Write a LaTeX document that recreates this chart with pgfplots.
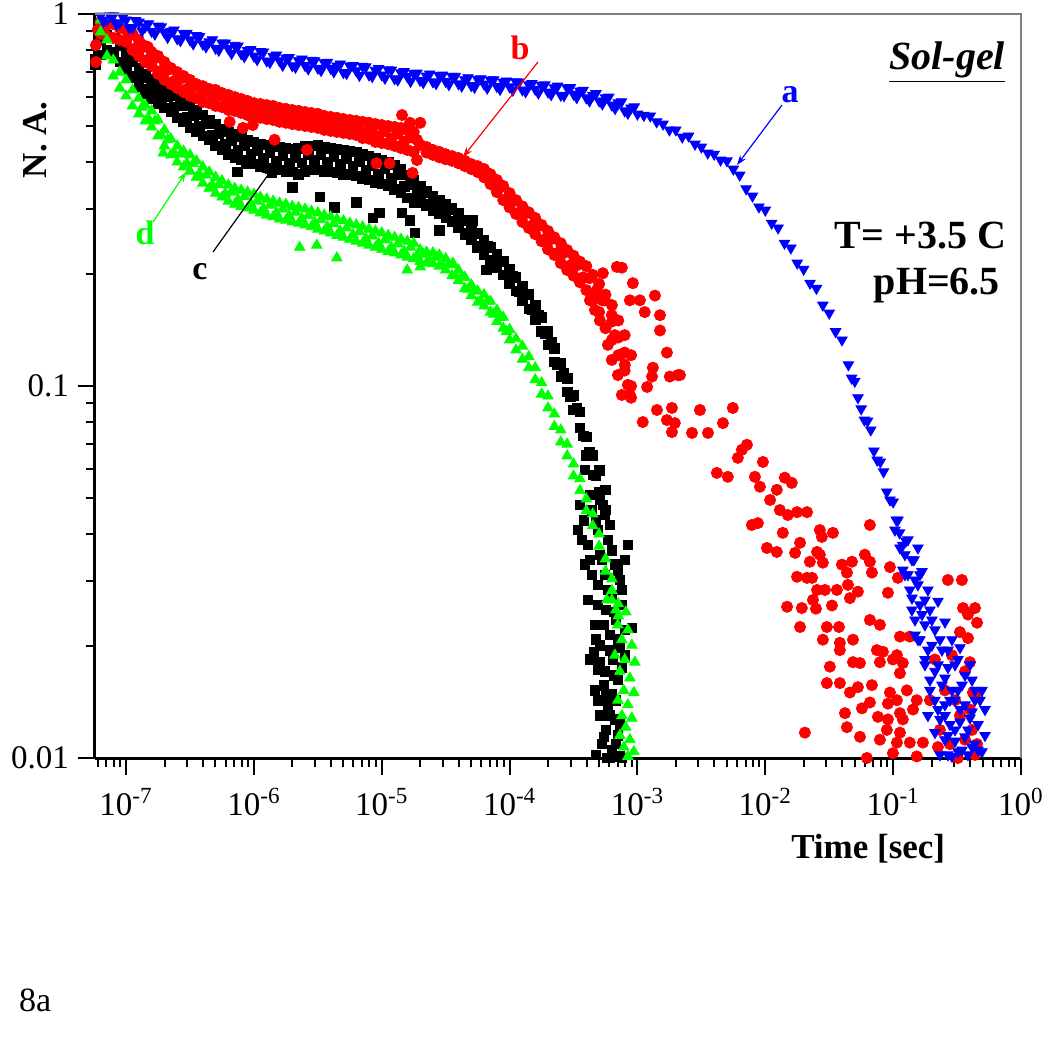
\documentclass[border=0pt]{standalone}
\usepackage{fontspec}
\setmainfont{Liberation Serif}
\usepackage{pgfplots}
\pgfplotsset{compat=1.18}
\usetikzlibrary{arrows.meta}
\definecolor{cblue}{RGB}{0,0,255}
\definecolor{cred}{RGB}{255,0,0}
\definecolor{cgreen}{RGB}{0,255,0}
\begin{document}
\begin{tikzpicture}
\useasboundingbox (0,0) rectangle (521.5pt,525pt);
\begin{axis}[
 at={(47.5pt,146pt)}, anchor=south west,
 width=463pt, height=372pt, scale only axis,
 xmode=log, ymode=log,
 xmin=5.71e-8, xmax=1, ymin=0.01, ymax=1,
 axis x line*=bottom, axis y line*=left,
 axis line style={-, line width=1.5pt},
 tick align=outside,
 major tick length=8.5pt, minor tick length=4.5pt,
 every tick/.style={black, line width=1pt},
 xtick={1e-7,1e-6,1e-5,1e-4,1e-3,1e-2,1e-1,1},
 xticklabels={10\textsuperscript{-7},10\textsuperscript{-6},10\textsuperscript{-5},10\textsuperscript{-4},10\textsuperscript{-3},10\textsuperscript{-2},10\textsuperscript{-1},10\textsuperscript{0}},
 minor xtick={6e-8,7e-8,8e-8,9e-8,2e-7,3e-7,4e-7,5e-7,6e-7,7e-7,8e-7,9e-7,2e-6,3e-6,4e-6,5e-6,6e-6,7e-6,8e-6,9e-6,2e-5,3e-5,4e-5,5e-5,6e-5,7e-5,8e-5,9e-5,2e-4,3e-4,4e-4,5e-4,6e-4,7e-4,8e-4,9e-4,2e-3,3e-3,4e-3,5e-3,6e-3,7e-3,8e-3,9e-3,0.02,0.03,0.04,0.05,0.06,0.07,0.08,0.09,0.2,0.3,0.4,0.5,0.6,0.7,0.8,0.9},
 ytick={0.01,0.1,1}, yticklabels={0.01,0.1,1},
 minor ytick={0.02,0.03,0.04,0.05,0.06,0.07,0.08,0.09,0.2,0.3,0.4,0.5,0.6,0.7,0.8,0.9},
 tick label style={font=\fontsize{16.5}{20}\selectfont},
 xticklabel style={yshift=-3pt},
 yticklabel style={xshift=-1pt},
 xlabel={Time [sec]}, ylabel={N. A.},
 label style={font=\fontsize{17.5}{21}\selectfont\bfseries},
 xlabel style={at={(axis description cs:0.835,-0.122)}, anchor=center},
 ylabel style={at={(axis description cs:-0.065,0.831)}, anchor=center},
]
% c (black squares)
\addplot[only marks, mark=square*, mark size=2.4pt, color=black] coordinates {
(5.754e-8,0.757)(5.754e-8,0.730)(6.310e-8,0.851)(6.310e-8,0.776)(7.079e-8,0.878)(7.079e-8,0.800)
(7.943e-8,0.862)(7.943e-8,0.790)(8.913e-8,0.820)(8.913e-8,0.743)(1e-7,0.790)(1e-7,0.707)
(1.122e-7,0.752)(1.122e-7,0.673)(1.259e-7,0.716)(1.259e-7,0.640)(1.413e-7,0.690)(1.413e-7,0.610)
(1.585e-7,0.669)(1.585e-7,0.591)(1.778e-7,0.648)(1.778e-7,0.573)(1.995e-7,0.632)(1.995e-7,0.559)
(2.239e-7,0.617)(2.239e-7,0.545)(2.512e-7,0.602)(2.512e-7,0.526)(2.818e-7,0.580)(2.818e-7,0.513)
(3.162e-7,0.566)(3.162e-7,0.494)(3.548e-7,0.552)(3.548e-7,0.482)(3.981e-7,0.535)(3.981e-7,0.470)
(4.467e-7,0.519)(4.467e-7,0.459)(5.012e-7,0.506)(5.012e-7,0.442)(5.623e-7,0.491)(5.623e-7,0.431)
(6.310e-7,0.482)(6.310e-7,0.420)(7.079e-7,0.476)(7.079e-7,0.410)(7.943e-7,0.467)(7.943e-7,0.405)
(8.913e-7,0.459)(8.913e-7,0.400)(1e-6,0.453)(1e-6,0.395)(1.122e-6,0.447)(1.122e-6,0.390)
(1.259e-6,0.445)(1.259e-6,0.386)(1.413e-6,0.442)(1.413e-6,0.383)(1.585e-6,0.439)(1.585e-6,0.381)
(1.778e-6,0.436)(1.778e-6,0.376)(1.995e-6,0.434)(1.995e-6,0.376)(2.239e-6,0.436)(2.239e-6,0.371)
(2.512e-6,0.442)(2.512e-6,0.376)(2.818e-6,0.442)(2.818e-6,0.381)(3.162e-6,0.445)(3.162e-6,0.381)
(3.548e-6,0.439)(3.548e-6,0.378)(3.981e-6,0.436)(3.981e-6,0.376)(4.467e-6,0.434)(4.467e-6,0.374)
(5.012e-6,0.431)(5.012e-6,0.371)(5.623e-6,0.428)(5.623e-6,0.369)(6.310e-6,0.426)(6.310e-6,0.367)
(7.079e-6,0.420)(7.079e-6,0.362)(7.943e-6,0.415)(7.943e-6,0.358)(8.913e-6,0.410)(8.913e-6,0.353)
(1e-5,0.405)(1e-5,0.349)(1.122e-5,0.400)(1.122e-5,0.345)(1.259e-5,0.393)(1.259e-5,0.338)
(1.413e-5,0.383)(1.413e-5,0.332)(1.585e-5,0.369)(1.585e-5,0.320)(1.778e-5,0.358)(1.778e-5,0.312)
(1.995e-5,0.345)(1.995e-5,0.312)(2.239e-5,0.334)(2.239e-5,0.306)(2.512e-5,0.324)(2.512e-5,0.297)
(2.818e-5,0.316)(2.818e-5,0.290)(3.162e-5,0.308)(3.162e-5,0.283)(3.548e-5,0.301)(3.548e-5,0.276)
(3.981e-5,0.292)(3.981e-5,0.266)(4.467e-5,0.279)(4.467e-5,0.256)(5.012e-5,0.269)(5.012e-5,0.247)
(5.623e-5,0.258)(5.623e-5,0.236)(6.310e-5,0.247)(6.310e-5,0.226)(7.079e-5,0.236)(7.079e-5,0.217)
(7.943e-5,0.226)(7.943e-5,0.208)(8.913e-5,0.217)(8.913e-5,0.199)(1e-4,0.206)(1e-4,0.189)
(1.122e-4,0.196)(1.122e-4,0.180)(1.259e-4,0.186)(1.259e-4,0.170)(1.413e-4,0.176)(1.413e-4,0.161)
(1.585e-4,0.165)(1.585e-4,0.151)(1.778e-4,0.153)(1.778e-4,0.140)(1.995e-4,0.140)(1.995e-4,0.129)
(2.239e-4,0.126)(2.239e-4,0.116)(2.512e-4,0.115)(2.512e-4,0.106)(2.818e-4,0.105)(2.818e-4,0.0963)
(3.162e-4,0.0945)(3.162e-4,0.0862)(3.548e-4,0.0852)(3.548e-4,0.0772)(3.981e-4,0.0730)(3.981e-4,0.0652)
(4.467e-4,0.0652)(4.467e-4,0.0577)(5.012e-4,0.0594)(5.012e-4,0.0519)(5.623e-4,0.0526)(5.623e-4,0.0464)
(1.059e-7,0.745)(1.189e-7,0.680)(1.334e-7,0.675)(1.496e-7,0.628)(1.679e-7,0.632)(1.884e-7,0.592)(2.113e-7,0.600)
(2.371e-7,0.562)(2.661e-7,0.566)(2.985e-7,0.528)(3.350e-7,0.534)(3.758e-7,0.500)(4.217e-7,0.506)(4.732e-7,0.472)
(5.309e-7,0.477)(5.957e-7,0.447)(6.683e-7,0.456)(7.499e-7,0.431)(8.414e-7,0.442)(9.441e-7,0.419)(1.059e-6,0.430)
(1.189e-6,0.409)(1.334e-6,0.423)(1.496e-6,0.403)(1.679e-6,0.416)(1.884e-6,0.397)(2.113e-6,0.412)(2.371e-6,0.398)
(2.661e-6,0.418)(2.985e-6,0.404)(3.350e-6,0.419)(3.758e-6,0.399)(4.217e-6,0.413)(4.732e-6,0.394)(5.309e-6,0.408)
(5.957e-6,0.390)(6.683e-6,0.402)(7.499e-6,0.381)(8.414e-6,0.392)(9.441e-6,0.372)(1.059e-5,0.383)(1.189e-5,0.362)
(1.334e-5,0.369)(1.496e-5,0.344)(1.679e-5,0.347)(1.884e-5,0.325)(2.113e-5,0.331)(2.371e-5,0.309)(2.661e-5,0.313)
(2.985e-5,0.294)(3.350e-5,0.298)(3.758e-5,0.278)(4.217e-5,0.279)(4.732e-5,0.258)(5.309e-5,0.257)(5.957e-5,0.237)
(6.683e-5,0.237)(7.499e-5,0.218)(8.414e-5,0.216)(9.441e-5,0.199)(1.059e-4,0.197)(1.189e-4,0.179)(1.334e-4,0.177)
(1.496e-4,0.160)(1.679e-4,0.155)(1.884e-4,0.138)(2.113e-4,0.131)(2.371e-4,0.114)(2.661e-4,0.108)(2.985e-4,0.0936)
(3.350e-4,0.0872)(3.758e-4,0.0735)(4.217e-4,0.0663)(4.732e-4,0.0573)
(3.27e-6,0.322)(4.27e-6,0.302)(8.5e-6,0.283)(9.6e-6,0.292)(6.3e-6,0.312)(1.82e-5,0.258)(1.66e-5,0.279)
(7.4e-7,0.376)(8.7e-7,0.397)(1.38e-6,0.374)(2.0e-6,0.342)(1.44e-5,0.292)(2.82e-5,0.262)(5.1e-5,0.279)(6.6e-5,0.205)
(3.88e-4,0.0595)(4.65e-4,0.0577)(5.08e-4,0.0494)(4.40e-4,0.0464)(5.56e-4,0.0450)(4.90e-4,0.0410)(5.87e-4,0.0386)
(3.42e-4,0.0410)(3.67e-4,0.0386)(6.30e-4,0.0362)(5.08e-4,0.0352)(4.25e-4,0.0341)(6.66e-4,0.0331)(5.56e-4,0.0311)
(7.28e-4,0.0301)(4.90e-4,0.0292)(6.30e-4,0.0274)(4.09e-4,0.0266)(7.55e-4,0.0258)(5.66e-4,0.0250)(6.78e-4,0.0235)
(4.65e-4,0.0228)(7.96e-4,0.0221)(6.08e-4,0.0214)(5.08e-4,0.0201)(7.28e-4,0.0198)(4.25e-4,0.0184)(6.42e-4,0.0184)
(5.56e-4,0.0171)(7.03e-4,0.0162)(4.65e-4,0.0152)(6.30e-4,0.0148)(5.87e-4,0.0139)(5.08e-4,0.0130)(6.66e-4,0.0127)
(5.66e-4,0.0119)(7.03e-4,0.0115)(5.26e-4,0.0109)(6.30e-4,0.0105)(7.28e-4,0.0101)(5.77e-4,0.0100)(8.41e-4,0.0374)
(7.96e-4,0.0341)(9.04e-4,0.0224)(4.90e-4,0.0173)(4.56e-4,0.0193)(3.88e-4,0.0331)
(4.25e-4,0.0510)(5.36e-4,0.0479)(4.72e-4,0.0436)(4.09e-4,0.0374)(6.08e-4,0.0423)(5.26e-4,0.0341)(4.40e-4,0.0311)
(7.03e-4,0.0320)(5.87e-4,0.0283)(4.90e-4,0.0258)(7.55e-4,0.0283)(6.54e-4,0.0247)(5.46e-4,0.0228)(4.72e-4,0.0208)
(7.03e-4,0.0208)(6.08e-4,0.0195)(7.96e-4,0.0189)(5.08e-4,0.0181)(6.54e-4,0.0167)(7.55e-4,0.0175)(5.46e-4,0.0157)
(6.78e-4,0.0143)(4.90e-4,0.0143)(6.08e-4,0.0130)(7.28e-4,0.0123)(5.46e-4,0.0114)(6.78e-4,0.0109)(6.08e-4,0.0100)
(7.55e-4,0.0100)(4.72e-4,0.0102)(5.66e-4,0.0148)(3.81e-4,0.0436)(3.54e-4,0.0479)
};
% b (red circles)
\addplot[only marks, mark=*, mark size=2.8pt, color=cred] coordinates {
(5.8e-8,0.825)(5.8e-8,0.743)(6.0e-8,0.906)(6.310e-8,0.952)(6.310e-8,0.884)(7.079e-8,0.934)(7.079e-8,0.873)
(7.943e-8,0.940)(7.943e-8,0.862)(8.913e-8,0.917)(8.913e-8,0.851)(1e-7,0.906)(1e-7,0.841)
(1.122e-7,0.884)(1.122e-7,0.800)(1.259e-7,0.851)(1.259e-7,0.771)(1.413e-7,0.820)(1.413e-7,0.743)
(1.585e-7,0.790)(1.585e-7,0.725)(1.778e-7,0.771)(1.778e-7,0.690)(1.995e-7,0.743)(1.995e-7,0.665)
(2.239e-7,0.716)(2.239e-7,0.648)(2.512e-7,0.698)(2.512e-7,0.632)(2.818e-7,0.681)(2.818e-7,0.617)
(3.162e-7,0.665)(3.162e-7,0.602)(3.548e-7,0.648)(3.548e-7,0.594)(3.981e-7,0.640)(3.981e-7,0.580)
(4.467e-7,0.629)(4.467e-7,0.576)(5.012e-7,0.625)(5.012e-7,0.566)(5.623e-7,0.613)(5.623e-7,0.562)
(6.310e-7,0.606)(6.310e-7,0.552)(7.079e-7,0.598)(7.079e-7,0.549)(7.943e-7,0.591)(7.943e-7,0.542)
(8.913e-7,0.584)(8.913e-7,0.535)(1e-6,0.576)(1e-6,0.529)(1.122e-6,0.573)(1.122e-6,0.526)
(1.259e-6,0.569)(1.259e-6,0.522)(1.413e-6,0.566)(1.413e-6,0.519)(1.585e-6,0.559)(1.585e-6,0.513)
(1.778e-6,0.556)(1.778e-6,0.510)(1.995e-6,0.552)(1.995e-6,0.506)(2.239e-6,0.549)(2.239e-6,0.503)
(2.512e-6,0.545)(2.512e-6,0.500)(2.818e-6,0.542)(2.818e-6,0.497)(3.162e-6,0.539)(3.162e-6,0.494)
(3.548e-6,0.532)(3.548e-6,0.488)(3.981e-6,0.529)(3.981e-6,0.485)(4.467e-6,0.526)(4.467e-6,0.482)
(5.012e-6,0.522)(5.012e-6,0.479)(5.623e-6,0.519)(5.623e-6,0.476)(6.310e-6,0.516)(6.310e-6,0.473)
(7.079e-6,0.513)(7.079e-6,0.464)(7.943e-6,0.510)(7.943e-6,0.462)(8.913e-6,0.506)(8.913e-6,0.453)
(1e-5,0.503)(1e-5,0.450)(1.122e-5,0.500)(1.122e-5,0.447)(1.259e-5,0.497)(1.259e-5,0.442)
(1.413e-5,0.494)(1.413e-5,0.436)(1.585e-5,0.488)(1.585e-5,0.431)(1.778e-5,0.482)(1.778e-5,0.426)
(1.884e-5,0.459)(1.884e-5,0.405)(1.995e-5,0.445)(2.239e-5,0.439)(2.239e-5,0.424)(2.512e-5,0.431)(2.512e-5,0.418)
(2.818e-5,0.426)(2.818e-5,0.412)(3.162e-5,0.420)(3.162e-5,0.407)(3.548e-5,0.415)(3.548e-5,0.403)
(3.981e-5,0.410)(3.981e-5,0.397)(4.467e-5,0.403)(4.467e-5,0.390)(5.012e-5,0.395)(5.012e-5,0.383)
(5.623e-5,0.390)(5.623e-5,0.376)(6.310e-5,0.383)(6.310e-5,0.364)(7.079e-5,0.371)(7.079e-5,0.349)
(7.943e-5,0.358)(7.943e-5,0.332)(8.913e-5,0.345)(8.913e-5,0.316)(1e-4,0.330)(1e-4,0.302)
(1.122e-4,0.316)(1.122e-4,0.290)(1.259e-4,0.304)(1.259e-4,0.276)(1.413e-4,0.293)(1.413e-4,0.266)
(1.585e-4,0.283)(1.585e-4,0.256)(1.778e-4,0.271)(1.778e-4,0.245)(1.995e-4,0.261)(1.995e-4,0.233)
(2.239e-4,0.251)(2.239e-4,0.225)(2.512e-4,0.242)(2.512e-4,0.214)(2.818e-4,0.232)(2.818e-4,0.205)
(3.162e-4,0.224)(3.162e-4,0.198)(3.548e-4,0.216)(3.548e-4,0.190)(3.981e-4,0.210)(3.981e-4,0.181)
(4.467e-4,0.199)(4.467e-4,0.170)(5.012e-4,0.188)(5.012e-4,0.158)(5.623e-4,0.176)(5.623e-4,0.143)
(6.310e-4,0.165)(6.310e-4,0.149)(6.310e-4,0.133)(7.079e-4,0.150)(7.079e-4,0.135)(7.079e-4,0.121)
(7.943e-4,0.137)(7.943e-4,0.123)(7.943e-4,0.110)(8.913e-4,0.121)(8.913e-4,0.100)(8.913e-4,0.093)
(1.059e-7,0.875)(1.189e-7,0.810)(1.334e-7,0.813)(1.496e-7,0.755)(1.679e-7,0.760)(1.884e-7,0.704)(2.113e-7,0.707)
(2.371e-7,0.660)(2.661e-7,0.670)(2.985e-7,0.629)(3.350e-7,0.640)(3.758e-7,0.604)(4.217e-7,0.619)(4.732e-7,0.588)
(5.309e-7,0.604)(5.957e-7,0.572)(6.683e-7,0.588)(7.499e-7,0.560)(8.414e-7,0.575)(9.441e-7,0.546)(1.059e-6,0.563)
(1.189e-6,0.537)(1.334e-6,0.556)(1.496e-6,0.529)(1.679e-6,0.546)(1.884e-6,0.520)(2.113e-6,0.538)(2.371e-6,0.514)
(2.661e-6,0.532)(2.985e-6,0.508)(3.350e-6,0.524)(3.758e-6,0.499)(4.217e-6,0.516)(4.732e-6,0.493)(5.309e-6,0.510)
(5.957e-6,0.487)(6.683e-6,0.502)(7.499e-6,0.478)(8.414e-6,0.493)(9.441e-6,0.469)(1.059e-5,0.485)(1.189e-5,0.463)
(1.334e-5,0.477)(1.496e-5,0.454)(1.679e-5,0.466)
(6.683e-5,0.374)(7.499e-5,0.346)(8.414e-5,0.345)(9.441e-5,0.317)(1.059e-4,0.316)(1.189e-4,0.291)(1.334e-4,0.291)
(1.496e-4,0.270)(1.679e-4,0.269)(1.884e-4,0.248)(2.113e-4,0.248)(2.371e-4,0.228)(2.661e-4,0.228)(2.985e-4,0.211)
(3.350e-4,0.211)(3.758e-4,0.196)(4.217e-4,0.195)(4.732e-4,0.175)(5.309e-4,0.170)
(4.25e-4,0.170)(4.81e-4,0.181)(5.56e-4,0.170)(6.30e-4,0.155)(5.08e-4,0.150)(6.66e-4,0.137)(5.87e-4,0.129)
(7.28e-4,0.121)(7.96e-4,0.114)(7.03e-4,0.107)(8.41e-4,0.1007)(7.55e-4,0.0946)(8.72e-4,0.0946)(6.30e-4,0.1175)(4.65e-4,0.160)
(1.48e-7,0.815)(6.46e-7,0.513)(8.2e-7,0.494)(9.8e-7,0.503)(1.45e-6,0.459)(2.6e-6,0.431)(9.1e-6,0.397)
(1.15e-5,0.397)(1.66e-5,0.510)(2.0e-5,0.510)(1.74e-5,0.374)(1.44e-5,0.535)
(5.36e-4,0.201)(6.90e-4,0.209)(7.55e-4,0.208)(9.20e-4,0.189)(8.72e-4,0.170)(1.045e-3,0.170)(1.14e-3,0.158)
(1.37e-3,0.175)(1.50e-3,0.155)(1.50e-3,0.141)(1.70e-3,0.123)(2.15e-3,0.107)(1.32e-3,0.112)(1.30e-3,0.106)
(1.79e-3,0.106)(2.07e-3,0.107)(1.19e-3,0.0994)(1.42e-3,0.0862)(1.86e-3,0.0873)(3.08e-3,0.0862)(5.57e-3,0.0873)
(1.10e-3,0.0800)(1.70e-3,0.0810)(1.96e-3,0.0795)(1.86e-3,0.0752)(2.67e-3,0.0748)(3.56e-3,0.0748)(4.66e-3,0.0795)
(7.18e-3,0.0695)(6.56e-3,0.0674)(6.10e-3,0.0641)(9.58e-3,0.0625)(4.18e-3,0.0584)(5.09e-3,0.0570)(8.29e-3,0.0570)
(1.42e-2,0.0567)(1.61e-2,0.0549)(9.08e-3,0.0536)(1.23e-2,0.0526)(1.09e-2,0.0494)(1.30e-2,0.0464)(1.50e-2,0.0450)
(1.77e-2,0.0458)(2.12e-2,0.0458)(7.85e-3,0.0423)(8.75e-3,0.0428)(1.37e-2,0.0403)(2.67e-2,0.0410)(3.38e-2,0.0403)
(2.77e-2,0.0393)(6.58e-2,0.0423)(1.87e-2,0.0379)(1.03e-2,0.0367)(1.23e-2,0.0358)(1.71e-2,0.0356)(2.54e-2,0.0358)
(2.67e-2,0.0352)(2.23e-2,0.0337)(2.82e-2,0.0335)(3.97e-2,0.0331)(4.76e-2,0.0337)(6.01e-2,0.0352)(6.58e-2,0.0337)
(9.44e-2,0.0326)(1.77e-2,0.0307)(2.12e-2,0.0305)(2.32e-2,0.0305)(4.35e-2,0.0315)(6.82e-2,0.0315)(0.109,0.0305)
(4.43e-2,0.0292)(0.268,0.0301)(0.345,0.0301)(2.54e-2,0.0283)(2.93e-2,0.0283)(3.63e-2,0.0283)(5.30e-2,0.0280)
(9.10e-2,0.0278)(2.36e-2,0.0266)(4.59e-2,0.0269)(1.48e-2,0.0255)(1.93e-2,0.0253)(2.49e-2,0.0252)(3.32e-2,0.0257)
(0.352,0.0253)(0.437,0.0253)(1.87e-2,0.0225)(3.03e-2,0.0225)(3.77e-2,0.0225)(6.58e-2,0.0235)(7.88e-2,0.0228)
(0.385,0.0243)(0.453,0.0231)(2.82e-2,0.0208)(3.83e-2,0.0204)(4.85e-2,0.0208)(0.113,0.0212)(0.135,0.0212)
(0.333,0.0218)(0.385,0.0210)(3.83e-2,0.0195)(7.46e-2,0.0195)(8.32e-2,0.0193)(0.107,0.0189)(0.288,0.0189)
(0.399,0.0181)(3.20e-2,0.0176)(4.85e-2,0.0181)(5.50e-2,0.0180)(7.88e-2,0.0181)(9.96e-2,0.0184)(0.119,0.0180)
(0.113,0.0169)(0.365,0.0171)(3.03e-2,0.0159)(3.83e-2,0.0159)(4.59e-2,0.0150)(5.30e-2,0.0155)(6.82e-2,0.0157)
(9.44e-2,0.0150)(0.128,0.0152)(0.107,0.0143)(0.421,0.0150)(0.453,0.0146)(6.58e-2,0.0141)(9.10e-2,0.0140)
(0.153,0.0143)(4.20e-2,0.0132)(5.70e-2,0.0136)(7.60e-2,0.0129)(0.113,0.0132)(0.143,0.0135)(4.35e-2,0.0121)
(5.50e-2,0.0114)(9.10e-2,0.0127)(0.119,0.0127)(8.93e-2,0.0119)(0.113,0.0117)(7.88e-2,0.0112)(0.107,0.0110)
(0.135,0.0110)(0.171,0.0110)(2.04e-2,0.0117)(6.23e-2,0.0100)(9.96e-2,0.0103)(0.153,0.0101)
(0.212,0.0184)(0.254,0.0152)(0.305,0.0143)(0.333,0.0130)(0.232,0.0119)(0.278,0.0109)(0.365,0.0112)
(0.414,0.0119)(0.194,0.0143)(0.224,0.0107)(0.437,0.0102)(0.321,0.0100)(0.453,0.0109)(0.399,0.0135)
};
% d (green triangles)
\addplot[only marks, mark=triangle*, mark size=3pt, color=cgreen] coordinates {
(6.310e-8,0.963)(6.310e-8,0.895)(7.079e-8,0.851)(7.079e-8,0.771)(7.943e-8,0.752)(7.943e-8,0.681)
(8.913e-8,0.698)(8.913e-8,0.632)(1e-7,0.665)(1e-7,0.602)(1.122e-7,0.625)(1.122e-7,0.566)
(1.259e-7,0.594)(1.259e-7,0.539)(1.413e-7,0.569)(1.413e-7,0.516)(1.585e-7,0.549)(1.585e-7,0.497)
(1.778e-7,0.519)(1.778e-7,0.470)(1.995e-7,0.488)(1.995e-7,0.442)(2.239e-7,0.462)(2.239e-7,0.418)
(2.512e-7,0.442)(2.512e-7,0.400)(2.818e-7,0.428)(2.818e-7,0.388)(3.162e-7,0.418)(3.162e-7,0.378)
(3.548e-7,0.403)(3.548e-7,0.364)(3.981e-7,0.388)(3.981e-7,0.351)(4.467e-7,0.376)(4.467e-7,0.340)
(5.012e-7,0.364)(5.012e-7,0.330)(5.623e-7,0.356)(5.623e-7,0.322)(6.310e-7,0.347)(6.310e-7,0.314)
(7.079e-7,0.340)(7.079e-7,0.308)(7.943e-7,0.336)(7.943e-7,0.304)(8.913e-7,0.332)(8.913e-7,0.301)
(1e-6,0.328)(1e-6,0.297)(1.122e-6,0.322)(1.122e-6,0.292)(1.259e-6,0.318)(1.259e-6,0.288)
(1.413e-6,0.314)(1.413e-6,0.285)(1.585e-6,0.310)(1.585e-6,0.281)(1.778e-6,0.308)(1.778e-6,0.279)
(1.995e-6,0.304)(1.995e-6,0.276)(2.239e-6,0.302)(2.239e-6,0.274)(2.512e-6,0.299)(2.512e-6,0.271)
(2.818e-6,0.295)(2.818e-6,0.268)(3.162e-6,0.292)(3.162e-6,0.264)(3.548e-6,0.288)(3.548e-6,0.261)
(3.981e-6,0.285)(3.981e-6,0.258)(4.467e-6,0.281)(4.467e-6,0.254)(5.012e-6,0.278)(5.012e-6,0.251)
(5.623e-6,0.274)(5.623e-6,0.248)(6.310e-6,0.271)(6.310e-6,0.245)(7.079e-6,0.268)(7.079e-6,0.242)
(7.943e-6,0.264)(7.943e-6,0.239)(8.913e-6,0.261)(8.913e-6,0.236)(1e-5,0.258)(1e-5,0.233)
(1.122e-5,0.254)(1.122e-5,0.230)(1.259e-5,0.251)(1.259e-5,0.228)(1.413e-5,0.248)(1.413e-5,0.225)
(1.585e-5,0.245)(1.585e-5,0.222)(1.778e-5,0.242)(1.778e-5,0.220)(1.995e-5,0.232)(1.995e-5,0.216)
(2.239e-5,0.229)(2.239e-5,0.214)(2.512e-5,0.228)(2.512e-5,0.213)(2.818e-5,0.225)(2.818e-5,0.210)
(3.162e-5,0.220)(3.162e-5,0.205)(3.548e-5,0.212)(3.548e-5,0.198)(3.981e-5,0.205)(3.981e-5,0.192)
(4.467e-5,0.196)(4.467e-5,0.183)(5.012e-5,0.187)(5.012e-5,0.175)(5.623e-5,0.180)(5.623e-5,0.168)
(6.310e-5,0.176)(6.310e-5,0.164)(7.079e-5,0.169)(7.079e-5,0.158)(7.943e-5,0.160)(7.943e-5,0.149)
(8.913e-5,0.153)(8.913e-5,0.143)(1e-4,0.142)(1e-4,0.133)(1.122e-4,0.134)(1.122e-4,0.125)
(1.259e-4,0.128)(1.259e-4,0.118)(1.413e-4,0.120)(1.413e-4,0.112)(1.585e-4,0.112)(1.585e-4,0.104)
(1.778e-4,0.102)(1.778e-4,0.0951)(1.995e-4,0.0940)(1.995e-4,0.0873)(2.239e-4,0.0841)(2.239e-4,0.0779)
(2.512e-4,0.0762)(2.512e-4,0.0707)(2.818e-4,0.0698)(2.818e-4,0.0649)(3.162e-4,0.0617)(3.162e-4,0.0573)
(3.548e-4,0.0563)(3.548e-4,0.0523)(3.981e-4,0.0497)(3.981e-4,0.0462)(4.467e-4,0.0453)(4.467e-4,0.0421)
(5.012e-4,0.0400)(5.012e-4,0.0371)(5.623e-4,0.0343)(5.623e-4,0.0318)(6.310e-4,0.0303)(6.310e-4,0.0282)
(7.079e-4,0.0260)(7.079e-4,0.0241)
(1.334e-7,0.562)(1.496e-7,0.524)(1.679e-7,0.516)(1.884e-7,0.473)(2.113e-7,0.459)(2.371e-7,0.424)(2.661e-7,0.420)
(2.985e-7,0.397)(3.350e-7,0.396)(3.758e-7,0.370)(4.217e-7,0.369)(4.732e-7,0.347)(5.309e-7,0.348)(5.957e-7,0.329)
(6.683e-7,0.332)(7.499e-7,0.317)(8.414e-7,0.323)(9.441e-7,0.309)(1.059e-6,0.314)(1.189e-6,0.300)(1.334e-6,0.306)
(1.496e-6,0.292)(1.679e-6,0.299)(1.884e-6,0.287)(2.113e-6,0.293)(2.371e-6,0.282)(2.661e-6,0.287)(2.985e-6,0.275)
(3.350e-6,0.280)(3.758e-6,0.268)(4.217e-6,0.273)(4.732e-6,0.261)(5.309e-6,0.266)(5.957e-6,0.255)(6.683e-6,0.260)
(7.499e-6,0.249)(8.414e-6,0.253)(9.441e-6,0.242)(1.059e-5,0.247)(1.189e-5,0.236)(1.334e-5,0.241)(1.496e-5,0.230)
(1.679e-5,0.236)(1.884e-5,0.223)(2.113e-5,0.226)(2.371e-5,0.217)(2.661e-5,0.222)(2.985e-5,0.211)(3.350e-5,0.212)
(3.758e-5,0.198)(4.217e-5,0.196)(4.732e-5,0.182)(5.309e-5,0.180)(5.957e-5,0.169)(6.683e-5,0.169)(7.499e-5,0.156)
(8.414e-5,0.153)(9.441e-5,0.140)
(2.28e-6,0.236)(4.45e-6,0.221)(3.1e-6,0.239)(1.58e-5,0.205)(2.0e-5,0.209)(1.95e-7,0.423)(3.6e-5,0.214)
(7.03e-4,0.0228)(8.41e-4,0.0221)(7.55e-4,0.0208)(9.04e-4,0.0201)(6.66e-4,0.0189)(7.96e-4,0.0184)(9.54e-4,0.0181)
(7.28e-4,0.0171)(8.72e-4,0.0164)(7.82e-4,0.0152)(9.37e-4,0.0150)(7.03e-4,0.0143)(8.41e-4,0.0139)(7.55e-4,0.0130)
(9.04e-4,0.0128)(8.10e-4,0.0121)(7.28e-4,0.0115)(8.72e-4,0.0112)(7.82e-4,0.0107)(9.37e-4,0.0104)(8.41e-4,0.0101)
(6.78e-4,0.0250)(6.30e-4,0.0266)(8.10e-4,0.0247)(5.77e-4,0.0266)
};
% a (blue inverted triangles)
\addplot[only marks, mark=triangle*, mark options={rotate=180}, mark size=3pt, color=cblue] coordinates {
(6.310e-8,0.987)(7.079e-8,0.964)(7.943e-8,0.989)(8.913e-8,0.947)(1e-7,0.964)(1.122e-7,0.919)(1.259e-7,0.951)
(1.413e-7,0.924)(1.585e-7,0.898)(1.778e-7,0.928)(1.995e-7,0.892)(2.239e-7,0.899)(2.512e-7,0.858)(2.818e-7,0.886)
(3.162e-7,0.852)(3.548e-7,0.875)(3.981e-7,0.830)(4.467e-7,0.842)(5.012e-7,0.809)(5.623e-7,0.836)(6.310e-7,0.807)
(7.079e-7,0.824)(7.943e-7,0.782)(8.913e-7,0.798)(1e-6,0.771)(1.122e-6,0.793)(1.259e-6,0.748)(1.413e-6,0.770)
(1.585e-6,0.749)(1.778e-6,0.762)(1.995e-6,0.726)(2.239e-6,0.749)(2.512e-6,0.727)(2.818e-6,0.751)(3.162e-6,0.715)
(3.548e-6,0.740)(3.981e-6,0.715)(4.467e-6,0.725)(5.012e-6,0.696)(5.623e-6,0.725)(6.310e-6,0.704)(7.079e-6,0.724)
(7.943e-6,0.686)(8.913e-6,0.706)(1e-5,0.686)(1.122e-5,0.708)(1.259e-5,0.670)(1.413e-5,0.695)(1.585e-5,0.679)
(1.778e-5,0.692)(1.995e-5,0.663)(2.239e-5,0.681)(2.512e-5,0.657)(2.818e-5,0.683)(3.162e-5,0.659)(3.548e-5,0.680)
(3.981e-5,0.649)(4.467e-5,0.666)(5.012e-5,0.642)(5.623e-5,0.667)(6.310e-5,0.648)(7.079e-5,0.665)(7.943e-5,0.639)
(8.913e-5,0.656)(1e-4,0.637)(1.122e-4,0.657)(1.259e-4,0.625)(1.413e-4,0.645)(1.585e-4,0.628)(1.778e-4,0.643)
(1.995e-4,0.617)(2.239e-4,0.633)(2.512e-4,0.605)(2.818e-4,0.633)(3.162e-4,0.609)(3.548e-4,0.621)(3.981e-4,0.595)
(4.467e-4,0.605)(5.012e-4,0.584)(5.623e-4,0.595)(6.310e-4,0.569)(7.079e-4,0.577)(7.943e-4,0.549)(8.913e-4,0.559)
(1e-3,0.538)
(6.683e-8,0.955)(7.499e-8,0.988)(8.414e-8,0.937)(9.441e-8,0.980)(1.059e-7,0.918)(1.189e-7,0.961)(1.334e-7,0.901)
(1.496e-7,0.942)(1.679e-7,0.883)(1.884e-7,0.924)(2.113e-7,0.865)(2.371e-7,0.906)(2.661e-7,0.848)(2.985e-7,0.887)
(3.350e-7,0.831)(3.758e-7,0.870)(4.217e-7,0.816)(4.732e-7,0.853)(5.309e-7,0.799)(5.957e-7,0.836)(6.683e-7,0.783)
(7.499e-7,0.820)(8.414e-7,0.768)(9.441e-7,0.803)(1.059e-6,0.754)(1.189e-6,0.791)(1.334e-6,0.741)(1.496e-6,0.776)
(1.679e-6,0.728)(1.884e-6,0.764)(2.113e-6,0.719)(2.371e-6,0.757)(2.661e-6,0.712)(2.985e-6,0.749)(3.350e-6,0.705)
(3.758e-6,0.742)(4.217e-6,0.699)(4.732e-6,0.734)(5.309e-6,0.692)(5.957e-6,0.727)(6.683e-6,0.684)(7.499e-6,0.721)
(8.414e-6,0.679)(9.441e-6,0.714)(1.059e-5,0.672)(1.189e-5,0.707)(1.334e-5,0.665)(1.496e-5,0.700)(1.679e-5,0.659)
(1.884e-5,0.694)(2.113e-5,0.654)(2.371e-5,0.690)(2.661e-5,0.650)(2.985e-5,0.685)(3.350e-5,0.646)(3.758e-5,0.680)
(4.217e-5,0.640)(4.732e-5,0.674)(5.309e-5,0.635)(5.957e-5,0.670)(6.683e-5,0.632)(7.499e-5,0.666)(8.414e-5,0.627)
(9.441e-5,0.661)(1.059e-4,0.624)(1.189e-4,0.656)(1.334e-4,0.618)(1.496e-4,0.650)(1.679e-4,0.613)(1.884e-4,0.645)
(2.113e-4,0.607)(2.371e-4,0.640)(2.661e-4,0.603)(2.985e-4,0.634)(3.350e-4,0.596)(3.758e-4,0.624)(4.217e-4,0.584)
(4.732e-4,0.611)(5.309e-4,0.573)(5.957e-4,0.598)(6.683e-4,0.557)(7.499e-4,0.581)(8.414e-4,0.541)(9.441e-4,0.563)
(1.122e-3,0.534)(1.259e-3,0.532)(1.413e-3,0.513)(1.585e-3,0.506)(1.778e-3,0.488)(1.995e-3,0.488)
(2.239e-3,0.467)(2.512e-3,0.470)(2.818e-3,0.447)(3.162e-3,0.439)(3.548e-3,0.423)(3.981e-3,0.420)(4.467e-3,0.405)
(5.012e-3,0.403)(5.623e-3,0.383)(6.310e-3,0.369)(7.079e-3,0.339)(7.943e-3,0.324)(8.913e-3,0.303)(1e-2,0.297)
(1.122e-2,0.274)(1.259e-2,0.266)(1.413e-2,0.242)(1.585e-2,0.235)(1.778e-2,0.214)(1.995e-2,0.206)(2.239e-2,0.189)
(2.512e-2,0.183)(2.818e-2,0.165)(3.162e-2,0.157)(3.548e-2,0.140)(3.981e-2,0.133)(4.467e-2,0.114)(5.012e-2,0.103)
(5.623e-2,0.0868)(6.310e-2,0.0805)(7.079e-2,0.0669)(7.943e-2,0.0625)(8.913e-2,0.0519)(0.1,0.0488)(0.1122,0.0403)
(0.1259,0.0383)(4.732e-2,0.105)(5.309e-2,0.0930)(5.957e-2,0.0810)(6.683e-2,0.0762)(7.499e-2,0.0632)(8.414e-2,0.0588)
(9.441e-2,0.0494)(0.1059,0.0436)(0.1189,0.0373)
(0.1237,0.0352)(0.1403,0.0341)(0.1563,0.0367)(0.1305,0.0311)(0.1482,0.0301)(0.168,0.0317)(0.1871,0.0283)
(0.1403,0.0269)(0.1621,0.0258)(0.194,0.0250)(0.2243,0.0264)(0.1482,0.0235)(0.1774,0.0228)(0.2123,0.0221)
(0.2543,0.0232)(0.1621,0.0208)(0.201,0.0201)(0.241,0.0195)(0.2884,0.0208)(0.1774,0.0184)(0.2243,0.0178)
(0.2685,0.0175)(0.3214,0.0184)(0.194,0.0162)(0.241,0.0157)(0.2884,0.0152)(0.3453,0.0157)(0.414,0.0162)
(0.2123,0.0143)(0.2543,0.0139)(0.3048,0.0143)(0.3648,0.0139)(0.4366,0.0143)(0.2324,0.0127)(0.278,0.0123)
(0.3334,0.0125)(0.399,0.0128)(0.461,0.0123)(0.2543,0.0112)(0.3048,0.0111)(0.3648,0.0114)(0.4366,0.0109)
(0.2685,0.0102)(0.3214,0.0104)(0.3846,0.0102)(0.461,0.0105)(0.2123,0.0117)(0.1871,0.0130)(0.1563,0.0208)
(0.5228,0.0135)(0.4955,0.0152)(0.399,0.0178)(0.3334,0.0198)
(0.1237,0.0311)(0.135,0.0283)(0.1563,0.0292)(0.1774,0.0266)(0.1403,0.0250)(0.168,0.0243)(0.201,0.0235)
(0.2324,0.0208)(0.1871,0.0195)(0.2685,0.0195)(0.3048,0.0178)(0.2123,0.0171)(0.2543,0.0164)(0.3648,0.0167)
(0.3214,0.0152)(0.4366,0.0152)(0.278,0.0143)(0.2243,0.0135)(0.3334,0.0135)(0.414,0.0133)(0.478,0.0143)
(0.2543,0.0130)(0.3048,0.0119)(0.3846,0.0119)(0.5228,0.0115)(0.2685,0.0115)(0.3453,0.0105)(0.414,0.0107)
(0.4955,0.0104)(0.2884,0.0101)(0.2324,0.0102)(0.194,0.0152)(0.1774,0.0178)(0.1482,0.0214)(0.119,0.0320)
(0.113,0.0367)(0.1033,0.0410)(0.109,0.0436)(0.1305,0.0386)(0.1455,0.0341)(0.1621,0.0311)
};
\end{axis}
% frame (top and right, grey)
\draw[gray, line width=0.8pt] (47.5pt,518pt) -- (510.5pt,518pt) -- (510.5pt,146pt);
% annotations
\node[text=cred, font=\fontsize{17}{20}\selectfont\bfseries] at (260pt,501pt) {b};
\draw[cred, line width=0.6pt, -{Stealth[length=5pt,width=3.5pt]}] (269pt,494pt) -- (231.5pt,446.5pt);
\node[text=cblue, font=\fontsize{17}{20}\selectfont\bfseries] at (395pt,477.5pt) {a};
\draw[cblue, line width=0.6pt, -{Stealth[length=5pt,width=3.5pt]}] (391pt,472.5pt) -- (368.5pt,442.5pt);
\node[text=black, font=\fontsize{17}{20}\selectfont\bfseries] at (100pt,389pt) {c};
\draw[black, line width=0.6pt, -{Stealth[length=5pt,width=3.5pt]}] (106.5pt,399pt) -- (136.5pt,441pt);
\node[text=cgreen, font=\fontsize{17}{20}\selectfont\bfseries] at (72.5pt,408.5pt) {d};
\draw[cgreen, line width=0.6pt, -{Stealth[length=5pt,width=3.5pt]}] (76.5pt,414pt) -- (93pt,439pt);
\node[anchor=east, font=\fontsize{20}{24}\selectfont\bfseries\itshape] at (506pt,494pt) {\underline{Sol-gel}};
\node[anchor=east, font=\fontsize{20}{24}\selectfont\bfseries] at (506.5pt,407pt) {T= +3.5 C};
\node[anchor=east, font=\fontsize{20}{24}\selectfont\bfseries] at (503.5pt,382pt) {pH=6.5};
\node[anchor=west, font=\fontsize{17}{20}\selectfont] at (6pt,25pt) {8a};
\end{tikzpicture}
\end{document}
